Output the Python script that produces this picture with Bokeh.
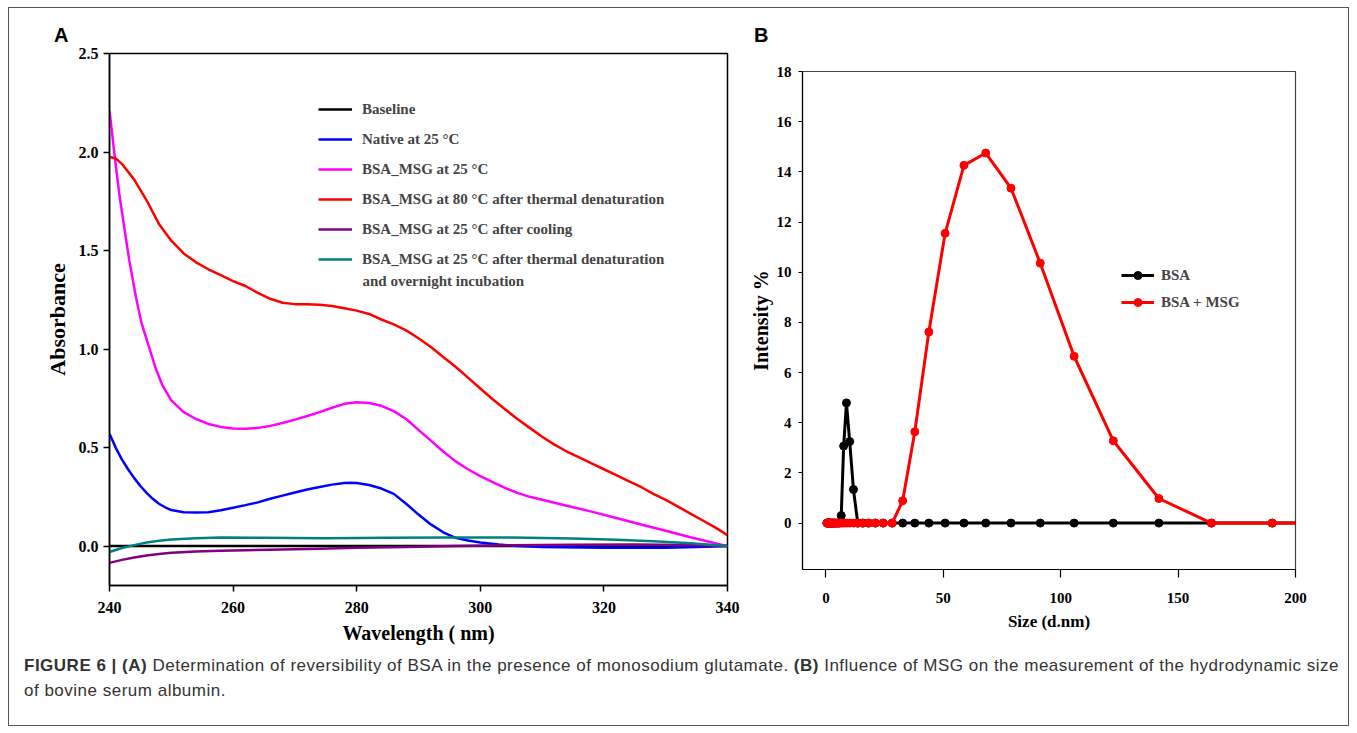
from bokeh.plotting import figure
from bokeh.models import Legend, LegendItem, Label, Div, Range1d, FixedTicker, PrintfTickFormatter
from bokeh.layouts import row, column
from bokeh.embed import file_html
from bokeh.resources import INLINE

# ---------------- Panel A data (UV absorbance) ----------------
wl_baseline = [240, 250, 260, 270, 280, 290, 300, 310, 320, 330, 340]
abs_baseline = [0.0, 0.0, 0.0, 0.0, 0.0, 0.0, 0.0, 0.0, 0.0, 0.0, 0.0]

wl_native = [240, 241, 242, 243, 244, 245, 246, 247, 248, 249, 250, 252, 254, 256, 258, 260,
             262, 264, 266, 268, 270, 272, 274, 276, 278, 279, 280, 282, 284, 286, 288, 290,
             292, 294, 296, 298, 300, 303, 306, 310, 320, 330, 335, 340]
abs_native = [0.57, 0.50, 0.44, 0.39, 0.345, 0.305, 0.27, 0.24, 0.215, 0.197, 0.183, 0.172,
              0.17, 0.172, 0.182, 0.195, 0.208, 0.222, 0.24, 0.256, 0.272, 0.287, 0.30, 0.312,
              0.32, 0.322, 0.32, 0.31, 0.292, 0.265, 0.215, 0.16, 0.11, 0.07, 0.042, 0.028,
              0.018, 0.008, 0.0, -0.005, -0.008, -0.008, -0.005, 0.0]

wl_msg25 = [240, 240.8, 241.6, 242.4, 243.2, 244.3, 245.2, 246.5, 247.5, 248.5, 250, 252, 254,
            256, 258, 260, 262, 264, 266, 268, 270, 272, 274, 276, 278, 280, 282, 284, 286,
            288, 290, 292, 294, 296, 298, 300, 302, 304, 306, 308, 310, 314, 318, 322, 326,
            330, 334, 337, 340]
abs_msg25 = [2.21, 1.99, 1.785, 1.615, 1.45, 1.26, 1.13, 1.0, 0.9, 0.82, 0.74, 0.68, 0.645,
             0.62, 0.605, 0.597, 0.595, 0.60, 0.61, 0.625, 0.642, 0.66, 0.68, 0.702, 0.722,
             0.73, 0.726, 0.712, 0.685, 0.645, 0.59, 0.535, 0.48, 0.43, 0.39, 0.355, 0.325,
             0.295, 0.27, 0.25, 0.235, 0.205, 0.175, 0.143, 0.11, 0.078, 0.045, 0.022, 0.0]

wl_msg80 = [240, 241, 242, 244, 246, 248, 250, 252, 254, 256, 258, 260, 262, 264, 266, 268,
            270, 272, 274, 276, 278, 280, 282, 284, 286, 288, 290, 292, 294, 296, 298, 300,
            302, 304, 306, 308, 310, 312, 314, 316, 318, 320, 322, 324, 326, 328, 330, 332,
            334, 336, 338, 340]
abs_msg80 = [1.975, 1.968, 1.94, 1.86, 1.755, 1.635, 1.55, 1.485, 1.44, 1.405, 1.375, 1.345,
             1.32, 1.285, 1.255, 1.235, 1.228, 1.228, 1.225, 1.218, 1.207, 1.195, 1.178, 1.15,
             1.125, 1.095, 1.055, 1.01, 0.96, 0.91, 0.855, 0.80, 0.745, 0.695, 0.645, 0.60,
             0.555, 0.515, 0.48, 0.45, 0.42, 0.39, 0.36, 0.33, 0.30, 0.265, 0.235, 0.20,
             0.165, 0.13, 0.095, 0.055]

wl_cool = [240, 242, 244, 246, 248, 250, 254, 258, 262, 268, 274, 280, 288, 296, 305, 315,
           325, 333, 340]
abs_cool = [-0.085, -0.07, -0.058, -0.048, -0.04, -0.034, -0.028, -0.024, -0.021, -0.017,
            -0.013, -0.009, -0.005, 0.0, 0.004, 0.007, 0.008, 0.006, 0.0]

wl_night = [240, 242, 244, 246, 248, 250, 254, 258, 265, 275, 285, 295, 305, 315, 322, 328,
            334, 340]
abs_night = [-0.03, -0.01, 0.005, 0.018, 0.027, 0.033, 0.04, 0.043, 0.042, 0.04, 0.042, 0.043,
             0.043, 0.038, 0.032, 0.025, 0.014, 0.0]

labels_a = ["Baseline", "Native at 25 \u00b0C", "BSA_MSG at 25 \u00b0C",
            "BSA_MSG at 80 \u00b0C after thermal denaturation",
            "BSA_MSG at 25 \u00b0C after cooling",
            "BSA_MSG at 25 \u00b0C after thermal denaturation"]
label_a_cont = "and overnight incubation"
colors_a = ["black", "#0000FF", "#FF00FF", "#FF0000", "#800080", "#008080"]

# ---------------- Panel B data (DLS size distribution) ----------------
size_bins = [0.4, 0.4632, 0.5365, 0.6213, 0.7195, 0.8332, 0.9649, 1.117, 1.294, 1.499, 1.736,
             2.01, 2.328, 2.696, 3.122, 3.615, 4.187, 4.849, 5.615, 6.503, 7.531, 8.721, 10.1,
             11.7, 13.54, 15.69, 18.17, 21.04, 24.36, 28.21, 32.67, 37.84, 43.82, 50.75, 58.77,
             68.06, 78.82, 91.28, 105.7, 122.4, 141.8, 164.2, 190.1, 220.2]
bsa_intensity = [0, 0, 0, 0, 0, 0, 0, 0, 0, 0, 0, 0, 0, 0, 0, 0, 0, 0, 0, 0.3, 3.07, 4.79, 3.25,
                 1.34, 0, 0, 0, 0, 0, 0, 0, 0, 0, 0, 0, 0, 0, 0, 0, 0, 0, 0, 0, 0]
msg_intensity = [0, 0, 0, 0, 0, 0, 0, 0, 0, 0, 0, 0, 0, 0, 0, 0, 0, 0, 0, 0, 0, 0, 0, 0, 0, 0, 0,
                 0, 0, 0, 0.89, 3.64, 7.62, 11.55, 14.26, 14.75, 13.35, 10.36, 6.65, 3.28, 0.98,
                 0, 0, 0]
labels_b = ["BSA", "BSA + MSG"]
colors_b = ["black", "#FF0000"]

SERIF = "Liberation Serif"
SANS = "Liberation Sans"


def style_axis(ax, tick_size, label_size, line_w):
    ax.major_label_text_font = SERIF
    ax.major_label_text_font_style = "bold"
    ax.major_label_text_font_size = tick_size
    ax.major_label_text_color = "black"
    ax.axis_label_text_font = SERIF
    ax.axis_label_text_font_style = "bold"
    ax.axis_label_text_font_size = label_size
    ax.axis_label_text_color = "black"
    ax.axis_line_color = "black"
    ax.axis_line_width = line_w
    ax.major_tick_line_color = "black"
    ax.major_tick_line_width = line_w
    ax.major_tick_in = 0
    ax.major_tick_out = 6
    ax.minor_tick_line_color = None


def letter_div(text, width, pad_left):
    html = ('<div style="padding:17px 0 0 %dpx; font-family:\'Liberation Sans\'; '
            'font-weight:bold; font-size:20px; line-height:20px; color:#000;">%s</div>'
            % (pad_left, text))
    return Div(text=html, width=width, height=35, margin=0)


# ---------------- Figure A ----------------
pA = figure(width=736, height=604, output_backend="svg", toolbar_location=None,
            x_range=Range1d(240, 340), y_range=Range1d(-0.2, 2.5),
            min_border_left=100, min_border_right=18, min_border_top=10, min_border_bottom=62)
pA.grid.visible = False
pA.outline_line_color = "black"
pA.outline_line_width = 1.5
pA.xaxis.axis_label = "Wavelength ( nm)"
pA.yaxis.axis_label = "Absorbance"
pA.xaxis.ticker = FixedTicker(ticks=[240, 260, 280, 300, 320, 340])
pA.yaxis.ticker = FixedTicker(ticks=[0.0, 0.5, 1.0, 1.5, 2.0, 2.5])
pA.yaxis.formatter = PrintfTickFormatter(format="%.1f")
style_axis(pA.xaxis[0], "16px", "20px", 1.5)
style_axis(pA.yaxis[0], "16px", "22px", 1.5)
pA.xaxis.major_label_standoff = 10
pA.xaxis.axis_label_standoff = 6
pA.yaxis.axis_label_standoff = 6

series_a = [(wl_baseline, abs_baseline), (wl_native, abs_native), (wl_msg25, abs_msg25),
            (wl_msg80, abs_msg80), (wl_cool, abs_cool), (wl_night, abs_night)]
rends_a = []
for (xs, ys), c in zip(series_a, colors_a):
    rends_a.append(pA.line(xs, ys, line_color=c, line_width=2.5))

legA = Legend(items=[LegendItem(label=l, renderers=[r]) for l, r in zip(labels_a, rends_a)],
              location=(209, 316), glyph_width=34, glyph_height=20, label_height=20,
              spacing=10, label_standoff=10, padding=0, margin=0,
              border_line_color=None, background_fill_alpha=0,
              label_text_font=SERIF, label_text_font_style="bold", label_text_font_size="15px")
pA.add_layout(legA)
pA.add_layout(Label(x=253, y=305, x_units="screen", y_units="screen", text=label_a_cont,
                    text_font=SERIF, text_font_style="bold", text_font_size="15px",
                    text_baseline="middle"))

# ---------------- Figure B ----------------
pB = figure(width=603, height=604, output_backend="svg", toolbar_location=None,
            x_range=Range1d(-10, 200), y_range=Range1d(-1.85, 18),
            min_border_left=57, min_border_right=53, min_border_top=28, min_border_bottom=78)
pB.grid.visible = False
pB.outline_line_color = "#444444"
pB.outline_line_width = 1.2
pB.xaxis.axis_label = "Size (d.nm)"
pB.yaxis.axis_label = "Intensity %"
pB.xaxis.ticker = FixedTicker(ticks=[0, 50, 100, 150, 200])
pB.yaxis.ticker = FixedTicker(ticks=[0, 2, 4, 6, 8, 10, 12, 14, 16, 18])
style_axis(pB.xaxis[0], "15px", "17px", 1.2)
style_axis(pB.yaxis[0], "15px", "20px", 1.2)
pB.xaxis.major_tick_out = 8
pB.yaxis.major_tick_out = 4
pB.xaxis.major_label_standoff = 15
pB.yaxis.major_label_standoff = 7
pB.xaxis.axis_label_standoff = 6
pB.yaxis.axis_label_standoff = 2

legB_items = []
for ys, c, lab in zip([bsa_intensity, msg_intensity], colors_b, labels_b):
    lr = pB.line(size_bins, ys, line_color=c, line_width=3)
    sr = pB.scatter(size_bins, ys, marker="circle", size=8, fill_color=c, line_color=c)
    legB_items.append(LegendItem(label=lab, renderers=[lr, sr]))

legB = Legend(items=legB_items, location=(319, 257), glyph_width=33, glyph_height=20,
              label_height=20, spacing=7, label_standoff=7, padding=0, margin=0,
              border_line_color=None, background_fill_alpha=0,
              label_text_font=SERIF, label_text_font_style="bold", label_text_font_size="15px")
pB.add_layout(legB)

# ---------------- Caption ----------------
caption_html = (
    '<div style="padding:6px 0 0 15px; font-family:\'Liberation Sans\'; font-size:17px; '
    'letter-spacing:0.5px; color:#333333; line-height:25px; white-space:nowrap;">'
    '<b>FIGURE 6 | (A)</b> Determination of reversibility of BSA in the presence of monosodium '
    'glutamate. <b>(B)</b> Influence of MSG on the measurement of the hydrodynamic size<br>'
    'of bovine serum albumin.</div>'
)
caption = Div(text=caption_html, width=1339, height=78, margin=0)

colA = column(letter_div("A", 736, 45), pA)
colB = column(letter_div("B", 603, 9), pB)

layout = column(row(colA, colB), caption, width=1341, height=719,
                styles={"border": "1px solid #555555", "margin": "7px 0 0 8px"})

with open("out.html", "w") as f:
    f.write(file_html(layout, INLINE))
